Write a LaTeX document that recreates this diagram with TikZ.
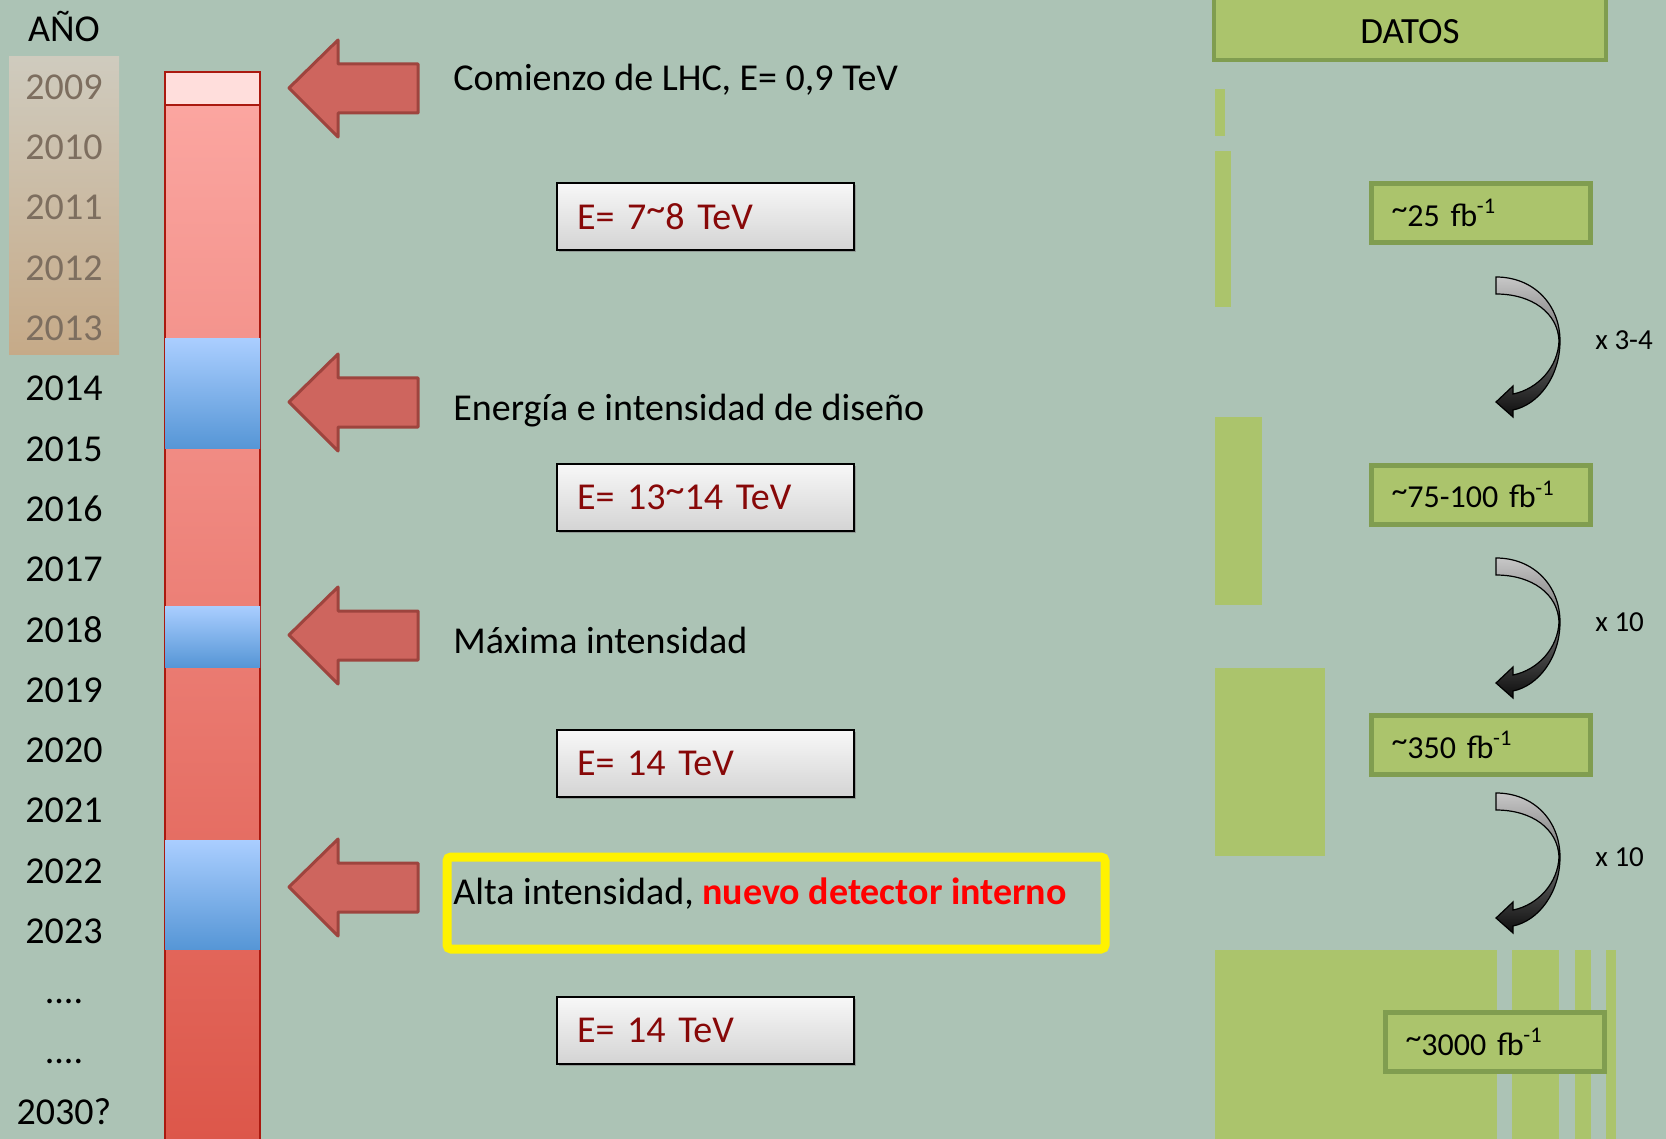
\documentclass[tikz,border=0pt]{standalone}
\usepackage{fontspec}
\setmainfont{Carlito}
\usetikzlibrary{shadows}

\definecolor{fondo}{RGB}{172,195,181}
\definecolor{verde}{RGB}{171,196,108}
\definecolor{verdeborde}{RGB}{128,157,80}
\definecolor{rojoflecha}{RGB}{206,101,94}
\definecolor{rojoborde}{RGB}{158,68,62}
\definecolor{rojobarra}{RGB}{170,25,15}
\definecolor{granate}{RGB}{135,8,8}
\definecolor{anyogris}{RGB}{125,110,95}
\newcommand\ondula{\raisebox{0.2em}{\textasciitilde}}

\begin{document}
\begin{tikzpicture}[x=0.5pt,y=-0.5pt,
    anyo/.style={font=\fontsize{19}{22}\selectfont},
    texto/.style={anchor=base west, inner sep=0pt, font=\fontsize{19}{22}\selectfont},
    caja/.style={draw=black, line width=0.8pt, top color=black!3, bottom color=black!17,
      drop shadow={shadow xshift=1.2pt, shadow yshift=-1.2pt, opacity=0.6},
      minimum width=148.5pt, minimum height=33.5pt, text width=128.5pt, inner xsep=10pt,
      align=left, text=granate, font=\fontsize{19}{22}\selectfont},
    dato/.style={fill=verde, draw=verdeborde, line width=2.5pt, minimum width=109.5pt,
      minimum height=29.5pt, text width=89.5pt, inner xsep=10pt, align=left,
      font=\fontsize{16}{19}\selectfont},
    factor/.style={anchor=west, inner sep=0pt, font=\fontsize{14.5}{17}\selectfont},
    flecha/.style={fill=rojoflecha, draw=rojoborde, line width=1.5pt, line join=round},
    curva/.style={top color=black!22, bottom color=black!95, draw=black, line width=0.6pt}]

    \useasboundingbox (0,0) rectangle (1666,1139);
    \fill[fondo] (0,0) rectangle (1666,1139);

    % años
    \node[anyo] (titulo) at (64,27) {AÑO};
    \shade[top color={rgb,255:red,207;green,203;blue,190}, bottom color={rgb,255:red,198;green,170;blue,136}]
        (9,57) rectangle (119,355);
    \foreach \a [count=\i from 0] in {2009,2010,2011,2012,2013}
        \node[anyo, text=anyogris] (y\i) at (64,{87+60.3*\i}) {\a};
    \foreach \a [count=\i from 5] in {2014,2015,2016,2017,2018,2019,2020,2021,2022,2023}
        \node[anyo] (y\i) at (64,{87+60.3*\i}) {\a};
    \node[anyo, anchor=base] (y15) at (64,{99+60.3*15}) {....};
    \node[anyo, anchor=base] (y16) at (64,{99+60.3*16}) {....};
    \node[anyo] (y17) at (64,{87+60.3*17}) {2030?};

    % barra
    \draw[draw=rojobarra, line width=0.8pt, top color={rgb,255:red,252;green,168;blue,163},
        bottom color={rgb,255:red,220;green,86;blue,73}] (165,72) rectangle (260,1150);
    \draw[draw=rojobarra, line width=0.8pt, fill={rgb,255:red,255;green,222;blue,220}] (165,72) rectangle (260,105);
    \foreach \a/\b in {339/448, 606/667, 840/949}
        \shade[top color={rgb,255:red,170;green,206;blue,255}, bottom color={rgb,255:red,86;green,150;blue,214}]
            (165,\a) rectangle (260,\b);

    % flechas
    \foreach \y in {88,402,635,887}
        \draw[flecha] (289,\y) -- ++(49,-48) -- ++(0,24) -- ++(80,0) -- ++(0,49)
            -- ++(-80,0) -- ++(0,24) -- cycle;

    \node[texto] (t1) at (453,91) {Comienzo de LHC, E= 0,9 TeV};
    \node[texto] (t2) at (453,420) {Energía e intensidad de diseño};
    \node[texto] (t3) at (453,653) {Máxima intensidad};
    \draw[yellow, line width=4.5pt, rounded corners=2pt] (447,857) rectangle (1105,949);
    \node[texto] (t4) at (453,904) {Alta intensidad, \textcolor{red}{\bfseries nuevo detector interno}};

    % energia
    \node[caja] (e1) at (705.5,216.5) {E= 7\ondula8 TeV};
    \node[caja] (e2) at (705.5,497.5) {E= 13\ondula14 TeV};
    \node[caja] (e3) at (705.5,763.5) {E= 14 TeV};
    \node[caja] (e4) at (705.5,1030.5) {E= 14 TeV};

    % datos
    \draw[fill=verde, draw=verdeborde, line width=2pt] (1214,-10) rectangle (1606,60);
    \node[font=\fontsize{18.5}{22}\selectfont] (datos) at (1410,32) {DATOS};
    \fill[verde] (1215,89) rectangle (1225,136);
    \fill[verde] (1215,151) rectangle (1231,307);
    \fill[verde] (1215,417) rectangle (1262,605);
    \fill[verde] (1215,668) rectangle (1325,856);
    \fill[verde] (1215,950) rectangle (1497,1139);
    \fill[verde] (1512,950) rectangle (1559,1139);
    \fill[verde] (1575,950) rectangle (1591,1139);
    \fill[verde] (1606,950) rectangle (1616,1139);

    \node[dato] (d1) at (1481,213) {\ondula25 fb\textsuperscript{-1}};
    \node[dato] (d2) at (1481,494.5) {\ondula75-100 fb\textsuperscript{-1}};
    \node[dato] (d3) at (1481,745) {\ondula350 fb\textsuperscript{-1}};
    \node[dato] (d4) at (1495,1042) {\ondula3000 fb\textsuperscript{-1}};

    % factores
    \foreach \y in {277,558,793}
        \path[curva, shift={(1496,\y)}] (0,0) .. controls (38,0) and (64,28) .. (64,64)
            .. controls (64,100) and (42,128) .. (17,133) -- (17,140) -- (0,125) -- (17,109)
            -- (17,117) .. controls (42,112) and (62,90) .. (63,64)
            .. controls (62,36) and (36,17) .. (0,17) -- cycle;
    \node[factor] (f1) at (1595,340) {x 3-4};
    \node[factor] (f2) at (1595,622) {x 10};
    \node[factor] (f3) at (1595,857) {x 10};
\end{tikzpicture}
\end{document}
